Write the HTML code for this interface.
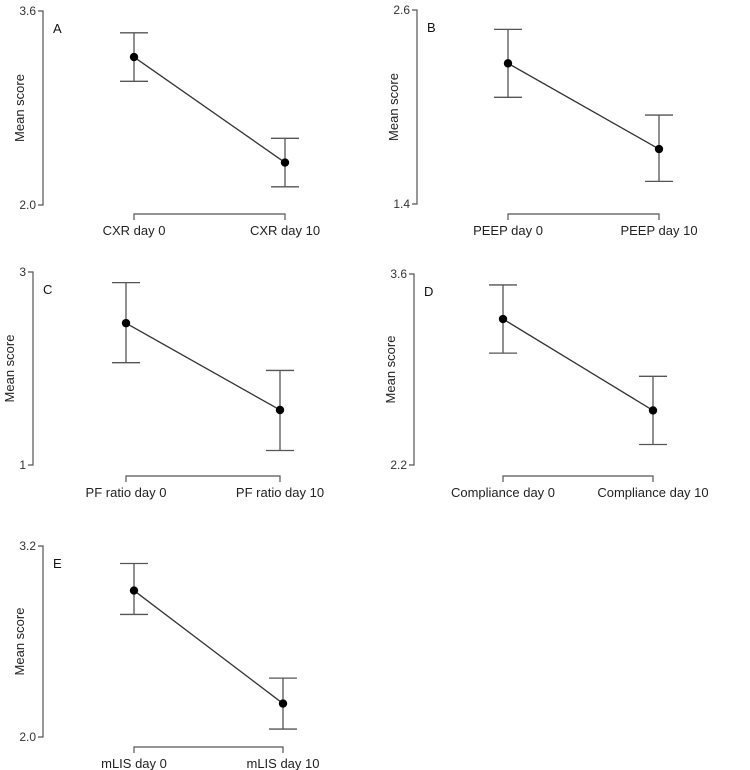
<!DOCTYPE html>
<html><head><meta charset="utf-8"><style>
html,body{margin:0;padding:0;background:#fff;}
svg{display:block;font-family:"Liberation Sans",Arial,sans-serif;}
</style></head><body>
<svg id="fig" width="750" height="770" viewBox="0 0 750 770"></svg>
<script>
// Data arrays
const catsA = ["CXR day 0","CXR day 10"];
const meanA = [3.22, 2.35];
const upA = [3.42, 2.55];
const loA = [3.02, 2.15];
const ticksA = ["3.6","2.0"];

const catsB = ["PEEP day 0","PEEP day 10"];
const meanB = [2.27, 1.74];
const upB = [2.48, 1.95];
const loB = [2.06, 1.54];
const ticksB = ["2.6","1.4"];

const catsC = ["PF ratio day 0","PF ratio day 10"];
const meanC = [2.47, 1.57];
const upC = [2.89, 1.98];
const loC = [2.06, 1.15];
const ticksC = ["3","1"];

const catsD = ["Compliance day 0","Compliance day 10"];
const meanD = [3.27, 2.60];
const upD = [3.52, 2.85];
const loD = [3.02, 2.35];
const ticksD = ["3.6","2.2"];

const catsE = ["mLIS day 0","mLIS day 10"];
const meanE = [2.92, 2.21];
const upE = [3.09, 2.37];
const loE = [2.77, 2.05];
const ticksE = ["3.2","2.0"];

const NS = "http://www.w3.org/2000/svg";
const svg = document.getElementById('fig');
function mk(tag, attrs, parent){
  const e = document.createElementNS(NS, tag);
  for (const k in attrs) e.setAttribute(k, attrs[k]);
  parent.appendChild(e);
  return e;
}
const LC = "#555";
function panel(letter, cfg, cats, mean, up, lo, ticks){
  const g = mk('g', {}, svg);
  
  
  const vmax = parseFloat(ticks[0]), vmin = parseFloat(ticks[1]);
  const y = v => cfg.yTop + (vmax - v) / (vmax - vmin) * (cfg.yBot - cfg.yTop);
  const x = i => cfg.xs[i];
  // y axis
  const ax = mk('path', {d:`M${cfg.ax-5},${cfg.yTop}H${cfg.ax}V${cfg.yBot}H${cfg.ax-5}`, stroke:LC, 'stroke-width':1.2, fill:'none'}, g);
  
  
  [[ticks[0], cfg.yTop],[ticks[1], cfg.yBot]].forEach(([t,yy])=>{
    const tx = mk('text', {x:cfg.ax-7, y:yy+4, 'text-anchor':'end', 'font-size':12, fill:'#333'}, g);
    tx.textContent = t;
    
    
  });
  const ym = (cfg.yTop + cfg.yBot) / 2;
  const yl = mk('text', {x:cfg.ax-19, y:ym, 'text-anchor':'middle', 'font-size':13, fill:'#222', transform:`rotate(-90 ${cfg.ax-19} ${ym})`}, g);
  yl.textContent = "Mean score";
  
  
  // x bracket
  const bx = mk('path', {d:`M${x(0)},${cfg.by+6}V${cfg.by}H${x(1)}V${cfg.by+6}`, stroke:LC, 'stroke-width':1.2, fill:'none'}, g);
  
  
  cats.forEach((c,i)=>{
    const t = mk('text', {x:x(i), y:cfg.by+21, 'text-anchor':'middle', 'font-size':13, fill:'#222'}, g);
    t.textContent = c;
    
    
  });
  // letter
  const lt = mk('text', {x:cfg.ax+10, y:cfg.yTop+22, 'font-size':13, fill:'#111'}, g);
  lt.textContent = letter;
  
  
  // line
  const ln = mk('line', {x1:x(0), y1:y(mean[0]), x2:x(1), y2:y(mean[1]), stroke:'#333', 'stroke-width':1.3}, g);
  
  
  mean.forEach((m,i)=>{
    const eb = mk('path', {d:`M${x(i)-14},${y(up[i])}H${x(i)+14}M${x(i)},${y(up[i])}V${y(lo[i])}M${x(i)-14},${y(lo[i])}H${x(i)+14}`, stroke:LC, 'stroke-width':1.3, fill:'none'}, g);
    
    
    const p = mk('circle', {cx:x(i), cy:y(m), r:4.2, fill:'#000'}, g);
    
    
  });
}
panel('A', {ax:43, yTop:11, yBot:205, xs:[134,285], by:214}, catsA, meanA, upA, loA, ticksA);
panel('B', {ax:417, yTop:10, yBot:204, xs:[508,659], by:214}, catsB, meanB, upB, loB, ticksB);
panel('C', {ax:33, yTop:272, yBot:465, xs:[126,280], by:476}, catsC, meanC, upC, loC, ticksC);
panel('D', {ax:414, yTop:274, yBot:465, xs:[503,653], by:476}, catsD, meanD, upD, loD, ticksD);
panel('E', {ax:43, yTop:546, yBot:737, xs:[134,283], by:747}, catsE, meanE, upE, loE, ticksE);
</script>
</body></html>
